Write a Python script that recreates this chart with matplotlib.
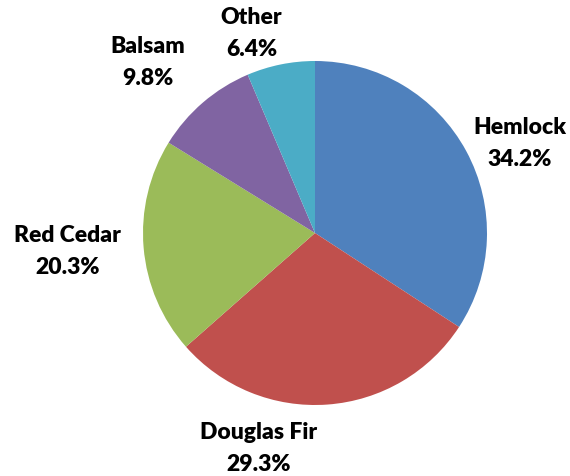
import matplotlib.pyplot as plt

# Tree species share
species = ["Hemlock", "Douglas Fir", "Red Cedar", "Balsam", "Other"]
shares = [34.2, 29.3, 20.3, 9.8, 6.4]
colours = ["#4F81BD", "#C0504D", "#9BBB59", "#8064A2", "#4BACC6"]

# label centres in pie-radius units (placed by hand like the original)
label_pos = [(1.19, 0.52), (-0.33, -1.255), (-1.44, -0.11), (-0.97, 0.99), (-0.37, 1.16)]

fig = plt.figure(figsize=(5.7, 4.76), dpi=100)
cx, cy, r = 315, 233, 172
ax = fig.add_axes([(cx - r) / 570, (476 - cy - r) / 476, 2 * r / 570, 2 * r / 476])

ax.pie(shares, colors=colours, startangle=90, counterclock=False, radius=1,
       wedgeprops=dict(linewidth=0))
ax.set_xlim(-1, 1)
ax.set_ylim(-1, 1)
ax.set_aspect("equal")
ax.axis("off")

for name, val, (x, y) in zip(species, shares, label_pos):
    ax.text(x, y, f"{name}\n{val:.1f}%", ha="center", va="center",
            fontsize=16.5, fontweight="heavy", family="Lato",
            linespacing=1.65, clip_on=False)

fig.savefig("out.png", dpi=100)
